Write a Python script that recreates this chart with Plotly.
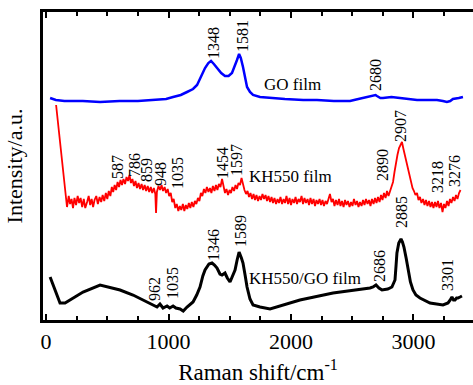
import plotly.graph_objects as go

# ---------------- data (Raman shift in cm^-1, intensity in a.u. with stacking offsets) ----------------
go_x = [33, 80, 150, 300, 441, 600, 750, 906, 980, 1037, 1100, 1151, 1200, 1233, 1265, 1298, 1325, 1347,
        1370, 1396, 1430, 1461, 1490, 1518, 1540, 1559, 1576, 1590, 1608, 1625, 1641, 1665, 1690, 1747,
        1829, 1950, 2100, 2212, 2350, 2482, 2550, 2588, 2640, 2690, 2702, 2730, 2751, 2820, 2890, 2950,
        3029, 3100, 3192, 3240, 3273, 3300, 3322, 3370, 3404]
go_y = [222, 220, 219, 219, 218, 219, 219, 220, 221, 223, 225, 228, 231, 235, 243, 252, 257, 259,
        256, 252, 247, 244, 244, 247, 253, 260, 266, 262, 253, 243, 233, 228, 225, 223,
        222, 221, 220, 220, 219, 219, 221, 222, 223, 225, 224, 222, 222, 223, 222, 221,
        220, 220, 220, 219, 218, 219, 221, 222, 223]

kh_x = [82, 88, 95, 100, 108, 118, 128, 138, 148, 160, 171, 185, 196, 208, 220, 232, 245, 258, 270, 282,
        295, 308, 320, 335, 348, 360, 372, 384, 396, 410, 423, 437, 450, 462, 475, 488, 500, 512, 525, 537,
        548, 560, 572, 584, 596, 608, 620, 632, 645, 657, 669, 681, 693, 705, 718, 730, 742, 755, 767, 780,
        792, 805, 817, 830, 842, 855, 867, 880, 892, 898, 905, 918, 931, 943, 955, 968, 980, 993, 1005, 1018,
        1030, 1042, 1055, 1067, 1080, 1092, 1104, 1117, 1129, 1141, 1153, 1166, 1178, 1190, 1203, 1215, 1227,
        1240, 1252, 1264, 1276, 1289, 1301, 1313, 1326, 1338, 1350, 1362, 1375, 1387, 1399, 1411, 1424, 1437,
        1449, 1461, 1473, 1486, 1498, 1510, 1522, 1535, 1547, 1559, 1571, 1584, 1596, 1608, 1620, 1633, 1645,
        1657, 1669, 1682, 1694, 1706, 1718, 1731, 1743, 1755, 1767, 1780, 1792, 1804, 1816, 1829, 1841, 1853,
        1865, 1878, 1890, 1902, 1914, 1927, 1939, 1951, 1963, 1976, 1988, 2000, 2012, 2025, 2037, 2049, 2061,
        2073, 2086, 2098, 2110, 2122, 2135, 2147, 2159, 2171, 2184, 2196, 2208, 2220, 2233, 2245, 2257, 2269,
        2282, 2294, 2306, 2318, 2331, 2343, 2355, 2367, 2380, 2392, 2404, 2416, 2429, 2441, 2453, 2465, 2478,
        2490, 2502, 2514, 2527, 2539, 2551, 2563, 2576, 2588, 2600, 2612, 2625, 2637, 2649, 2661, 2674, 2686,
        2698, 2710, 2723, 2735, 2747, 2759, 2772, 2784, 2796, 2808, 2820, 2833, 2845, 2857, 2869, 2882, 2894,
        2906, 2918, 2931, 2943, 2955, 2967, 2980, 2992, 3004, 3016, 3029, 3041, 3053, 3065, 3078, 3090, 3102,
        3114, 3127, 3139, 3151, 3163, 3176, 3188, 3200, 3212, 3225, 3237, 3249, 3261, 3274, 3286, 3298, 3310,
        3323, 3335, 3347, 3359, 3372, 3384]
kh_y = [215, 208, 200, 192, 184, 175, 165, 152, 138, 124, 113, 124, 116, 121, 112, 122, 115, 124, 117, 122,
        113, 121, 112, 118, 124, 115, 121, 113, 120, 124, 116, 123, 118, 125, 119, 127, 121, 129, 124, 133,
        128, 135, 130, 138, 133, 140, 135, 141, 136, 143, 139, 145, 137, 141, 134, 139, 132, 137, 131, 136,
        130, 135, 129, 134, 128, 133, 127, 132, 126, 107, 128, 134, 130, 135, 129, 133, 127, 131, 124, 127,
        118, 121, 112, 116, 109, 114, 110, 116, 109, 115, 111, 117, 112, 118, 113, 119, 116,
        122, 119, 127, 124, 131, 127, 133, 128, 132, 127, 134, 129, 135, 130, 136, 133, 141,
        132, 127, 131, 125, 130, 127, 133, 129, 135, 131, 137, 135, 142, 134, 130, 126, 129,
        123, 127, 121, 126, 120, 125, 119, 124, 120, 126, 121, 125, 119, 124, 118, 123, 117,
        122, 116, 121, 117, 123, 116, 121, 117, 124, 116, 122, 115, 121, 117, 123, 116, 121,
        118, 124, 116, 122, 117, 121, 115, 122, 116, 121, 114, 120, 116, 121, 115, 120, 114,
        119, 116, 122, 126, 118, 121, 114, 120, 115, 121, 114, 119, 113, 120, 115, 119, 113,
        118, 114, 121, 115, 119, 113, 118, 114, 120, 115, 121, 116, 120, 114, 121, 116, 122,
        117, 123, 118, 125, 120, 127, 122, 129, 124, 128, 133, 138, 148, 158, 165, 172, 176,
        178, 171, 164, 157, 149, 143, 138, 132, 129, 125, 127, 120, 123, 117, 121, 115, 120,
        114, 119, 113, 118, 112, 118, 113, 119, 112, 117, 108, 116, 112, 119, 114, 121, 117,
        123, 119, 125, 121, 127, 130]

mix_x = [33, 73, 114, 155, 220, 302, 441, 498, 604, 710, 792, 849, 906, 930, 955, 988, 1010, 1037, 1060,
         1094, 1120, 1151, 1200, 1230, 1257, 1280, 1298, 1330, 1355, 1375, 1396, 1420, 1437, 1461, 1480,
         1502, 1525, 1543, 1560, 1576, 1595, 1608, 1625, 1641, 1665, 1690, 1747, 1829, 2073, 2343, 2645,
         2670, 2694, 2718, 2743, 2790, 2824, 2849, 2858, 2865, 2880, 2898, 2910, 2922, 2940, 2955, 2975,
         2996, 3020, 3053, 3135, 3241, 3282, 3300, 3314, 3327, 3339, 3352, 3363, 3380, 3396]
mix_y = [43, 30, 17, 17, 22, 28, 35, 33, 30, 25, 20, 17, 13, 16, 12, 14, 12, 14, 12,
         11, 9, 13, 18, 25, 33, 44, 50, 56, 57, 55, 52, 46, 45, 47, 42,
         38, 44, 50, 60, 68, 62, 57, 45, 33, 21, 15, 13, 11, 20, 27, 32,
         33, 35, 32, 30, 31, 33, 40, 55, 67, 77, 81, 78, 73, 62, 50, 38,
         30, 25, 22, 17, 15, 17, 20, 23, 20, 20, 22, 22, 23, 24]

# peak labels: text, x position, y position (bottom of the rotated label)
go_peak_text = ["1348", "1581", "2680"]
go_peak_x = [1363, 1600, 2686]
go_peak_y = [260, 267, 228]

kh_peak_text = ["587", "786", "859", "948", "1035", "1454", "1597", "2890", "2907", "3218", "3276"]
kh_peak_x = [580, 718, 816, 931, 1069, 1437, 1551, 2743, 2890, 3192, 3331]
kh_peak_y = [140, 142, 137, 133, 130, 140, 143, 138, 177, 126, 132]

mix_peak_text = ["962", "1035", "1346", "1589", "2686", "2885", "3301"]
mix_peak_x = [882, 1029, 1363, 1584, 2718, 2898, 3273]
mix_peak_y = [18, 20, 58, 72, 37, 91, 28]

film_text = ["GO film", "KH550 film", "KH550/GO film"]
film_x = [1771, 1650, 1650]
film_y = [236, 144, 42]

x_ticks = [0, 1000, 2000, 3000]

FONT = "Liberation Serif, Times New Roman, serif"

fig = go.Figure()
fig.add_trace(go.Scatter(x=go_x, y=go_y, mode="lines", line=dict(color="#0000FF", width=2.5), showlegend=False))
fig.add_trace(go.Scatter(x=kh_x, y=kh_y, mode="lines", line=dict(color="#FF0000", width=1.8), showlegend=False))
fig.add_trace(go.Scatter(x=mix_x, y=mix_y, mode="lines", line=dict(color="#000000", width=3), showlegend=False))

anns = []
for texts, xs, ys in [(go_peak_text, go_peak_x, go_peak_y),
                      (kh_peak_text, kh_peak_x, kh_peak_y),
                      (mix_peak_text, mix_peak_x, mix_peak_y)]:
    for t, x, y in zip(texts, xs, ys):
        anns.append(dict(x=x, y=y, xref="x", yref="y", text=t, showarrow=False, textangle=-90,
                         xanchor="center", yanchor="bottom", borderpad=0,
                         font=dict(family=FONT, size=16, color="black")))
for t, x, y in zip(film_text, film_x, film_y):
    anns.append(dict(x=x, y=y, xref="x", yref="y", text=t, showarrow=False,
                     xanchor="left", yanchor="middle", borderpad=0,
                     font=dict(family=FONT, size=17, color="black")))

fig.update_layout(
    width=473, height=385,
    margin=dict(l=43, r=0, t=12, b=65),
    paper_bgcolor="white", plot_bgcolor="white",
    font=dict(family=FONT, color="black"),
    annotations=anns,
    xaxis=dict(range=[-25, 3486], tickvals=x_ticks, ticktext=[str(v) for v in x_ticks],
               showgrid=False, zeroline=False, showline=True, linecolor="black", linewidth=2.5,
               mirror="ticks", ticks="inside", ticklen=6, tickwidth=2, tickcolor="black",
               minor=dict(dtick=250, tick0=0, ticks="inside", ticklen=4, tickwidth=1.5, tickcolor="black"),
               tickfont=dict(family=FONT, size=22, color="black"),
               title=dict(text="Raman shift/cm<sup>-1</sup>", font=dict(family=FONT, size=23, color="black"),
                          standoff=14),
               automargin=False),
    yaxis=dict(range=[0, 308], showgrid=False, zeroline=False, showline=True, linecolor="black",
               linewidth=2.5, showticklabels=False, ticks="",
               title=dict(text="Intensity/a.u.", font=dict(family=FONT, size=22, color="black"),
                          standoff=12),
               automargin=False),
)

fig.write_html("out.html")
